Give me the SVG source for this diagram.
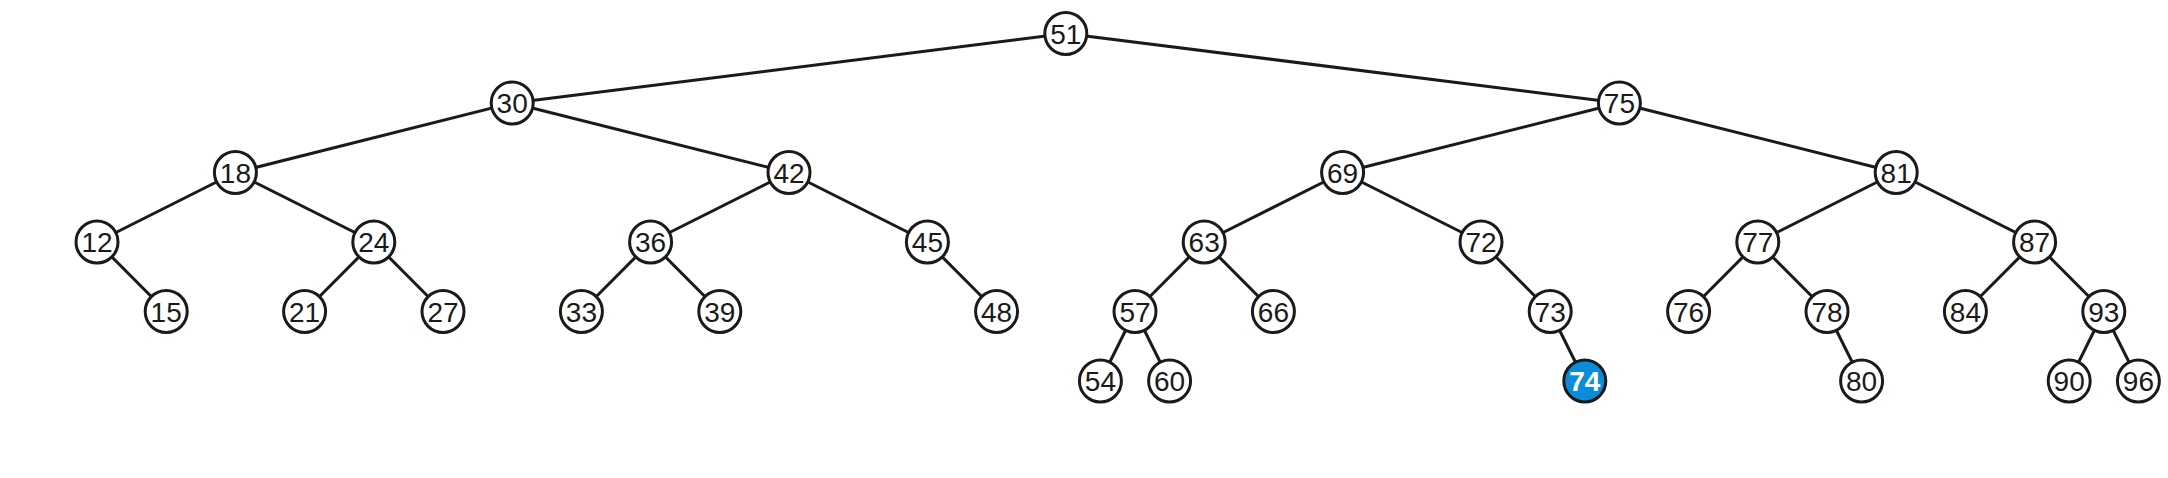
<svg xmlns="http://www.w3.org/2000/svg" width="2168" height="478" viewBox="0 0 2168 478">
<style>
.e line{stroke:#1a1a1a;stroke-width:3}
.n circle{fill:#fff;stroke:#1a1a1a;stroke-width:3}
.n text{font-family:"Liberation Sans",Arial,sans-serif;font-size:28px;fill:#1a1a1a;text-anchor:middle}
#n74 circle{fill:#0a8cd9}
#n74 text{fill:#fff;font-weight:bold}
</style>
<rect width="2168" height="478" fill="#fff"/>
<g class="e" id="connectors">
<line x1="1065.8" y1="33.5" x2="512.2" y2="103"/>
<line x1="1065.8" y1="33.5" x2="1619.4" y2="103"/>
<line x1="512.2" y1="103" x2="235.4" y2="172.5"/>
<line x1="512.2" y1="103" x2="789" y2="172.5"/>
<line x1="1619.4" y1="103" x2="1342.6" y2="172.5"/>
<line x1="1619.4" y1="103" x2="1896.2" y2="172.5"/>
<line x1="235.4" y1="172.5" x2="97" y2="242"/>
<line x1="235.4" y1="172.5" x2="373.8" y2="242"/>
<line x1="789" y1="172.5" x2="650.6" y2="242"/>
<line x1="789" y1="172.5" x2="927.4" y2="242"/>
<line x1="1342.6" y1="172.5" x2="1204.2" y2="242"/>
<line x1="1342.6" y1="172.5" x2="1481" y2="242"/>
<line x1="1896.2" y1="172.5" x2="1757.8" y2="242"/>
<line x1="1896.2" y1="172.5" x2="2034.6" y2="242"/>
<line x1="97" y1="242" x2="166.2" y2="311.5"/>
<line x1="373.8" y1="242" x2="304.6" y2="311.5"/>
<line x1="373.8" y1="242" x2="443" y2="311.5"/>
<line x1="650.6" y1="242" x2="581.4" y2="311.5"/>
<line x1="650.6" y1="242" x2="719.8" y2="311.5"/>
<line x1="927.4" y1="242" x2="996.6" y2="311.5"/>
<line x1="1204.2" y1="242" x2="1135" y2="311.5"/>
<line x1="1204.2" y1="242" x2="1273.4" y2="311.5"/>
<line x1="1481" y1="242" x2="1550.2" y2="311.5"/>
<line x1="1757.8" y1="242" x2="1688.6" y2="311.5"/>
<line x1="1757.8" y1="242" x2="1827" y2="311.5"/>
<line x1="2034.6" y1="242" x2="1965.4" y2="311.5"/>
<line x1="2034.6" y1="242" x2="2103.8" y2="311.5"/>
<line x1="1135" y1="311.5" x2="1100.4" y2="381"/>
<line x1="1135" y1="311.5" x2="1169.6" y2="381"/>
<line x1="1550.2" y1="311.5" x2="1584.8" y2="381"/>
<line x1="1827" y1="311.5" x2="1861.6" y2="381"/>
<line x1="2103.8" y1="311.5" x2="2069.2" y2="381"/>
<line x1="2103.8" y1="311.5" x2="2138.4" y2="381"/>
</g>
<g class="n" id="n51"><circle cx="1065.8" cy="33.5" r="21"/><text x="1065.8" y="43.5">51</text></g>
<g class="n" id="n30"><circle cx="512.2" cy="103" r="21"/><text x="512.2" y="113">30</text></g>
<g class="n" id="n75"><circle cx="1619.4" cy="103" r="21"/><text x="1619.4" y="113">75</text></g>
<g class="n" id="n18"><circle cx="235.4" cy="172.5" r="21"/><text x="235.4" y="182.5">18</text></g>
<g class="n" id="n42"><circle cx="789" cy="172.5" r="21"/><text x="789" y="182.5">42</text></g>
<g class="n" id="n69"><circle cx="1342.6" cy="172.5" r="21"/><text x="1342.6" y="182.5">69</text></g>
<g class="n" id="n81"><circle cx="1896.2" cy="172.5" r="21"/><text x="1896.2" y="182.5">81</text></g>
<g class="n" id="n12"><circle cx="97" cy="242" r="21"/><text x="97" y="252">12</text></g>
<g class="n" id="n24"><circle cx="373.8" cy="242" r="21"/><text x="373.8" y="252">24</text></g>
<g class="n" id="n36"><circle cx="650.6" cy="242" r="21"/><text x="650.6" y="252">36</text></g>
<g class="n" id="n45"><circle cx="927.4" cy="242" r="21"/><text x="927.4" y="252">45</text></g>
<g class="n" id="n63"><circle cx="1204.2" cy="242" r="21"/><text x="1204.2" y="252">63</text></g>
<g class="n" id="n72"><circle cx="1481" cy="242" r="21"/><text x="1481" y="252">72</text></g>
<g class="n" id="n77"><circle cx="1757.8" cy="242" r="21"/><text x="1757.8" y="252">77</text></g>
<g class="n" id="n87"><circle cx="2034.6" cy="242" r="21"/><text x="2034.6" y="252">87</text></g>
<g class="n" id="n15"><circle cx="166.2" cy="311.5" r="21"/><text x="166.2" y="321.5">15</text></g>
<g class="n" id="n21"><circle cx="304.6" cy="311.5" r="21"/><text x="304.6" y="321.5">21</text></g>
<g class="n" id="n27"><circle cx="443" cy="311.5" r="21"/><text x="443" y="321.5">27</text></g>
<g class="n" id="n33"><circle cx="581.4" cy="311.5" r="21"/><text x="581.4" y="321.5">33</text></g>
<g class="n" id="n39"><circle cx="719.8" cy="311.5" r="21"/><text x="719.8" y="321.5">39</text></g>
<g class="n" id="n48"><circle cx="996.6" cy="311.5" r="21"/><text x="996.6" y="321.5">48</text></g>
<g class="n" id="n57"><circle cx="1135" cy="311.5" r="21"/><text x="1135" y="321.5">57</text></g>
<g class="n" id="n66"><circle cx="1273.4" cy="311.5" r="21"/><text x="1273.4" y="321.5">66</text></g>
<g class="n" id="n73"><circle cx="1550.2" cy="311.5" r="21"/><text x="1550.2" y="321.5">73</text></g>
<g class="n" id="n76"><circle cx="1688.6" cy="311.5" r="21"/><text x="1688.6" y="321.5">76</text></g>
<g class="n" id="n78"><circle cx="1827" cy="311.5" r="21"/><text x="1827" y="321.5">78</text></g>
<g class="n" id="n84"><circle cx="1965.4" cy="311.5" r="21"/><text x="1965.4" y="321.5">84</text></g>
<g class="n" id="n93"><circle cx="2103.8" cy="311.5" r="21"/><text x="2103.8" y="321.5">93</text></g>
<g class="n" id="n54"><circle cx="1100.4" cy="381" r="21"/><text x="1100.4" y="391">54</text></g>
<g class="n" id="n60"><circle cx="1169.6" cy="381" r="21"/><text x="1169.6" y="391">60</text></g>
<g class="n" id="n74"><circle cx="1584.8" cy="381" r="21"/><text x="1584.8" y="391">74</text></g>
<g class="n" id="n80"><circle cx="1861.6" cy="381" r="21"/><text x="1861.6" y="391">80</text></g>
<g class="n" id="n90"><circle cx="2069.2" cy="381" r="21"/><text x="2069.2" y="391">90</text></g>
<g class="n" id="n96"><circle cx="2138.4" cy="381" r="21"/><text x="2138.4" y="391">96</text></g>
</svg>
